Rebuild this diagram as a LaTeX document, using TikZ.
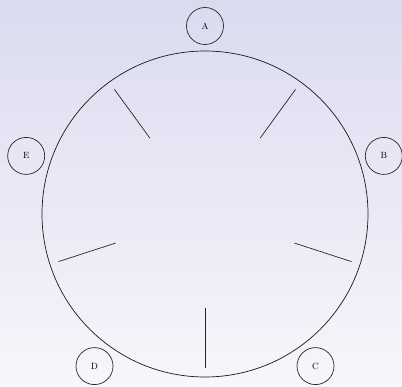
\documentclass[tikz,border=0pt]{standalone}
\usepackage{xcolor}
\usepackage{tikz}
\definecolor{bgtop}{RGB}{219,219,240}
\definecolor{bgbottom}{RGB}{246,246,251}
\tikzset{
  station/.style={
    circle,
    draw=black!85,
    line width=0.7pt,
    minimum size=37pt,
    inner sep=0pt,
    font=\small
  },
  ring/.style={draw=black!90, line width=0.7pt},
  spoke/.style={draw=black!85, line width=0.7pt}
}

\begin{document}
\begin{tikzpicture}[x=1pt,y=1pt]
\useasboundingbox (-205,-172) rectangle (197,214);
\shade[top color=bgtop, bottom color=bgbottom] (-205,-172) rectangle (197,214);
\node[station] (A) at (90:188) {A};
\node[station] (B) at (18:188) {B};
\node[station] (C) at (-54:188) {C};
\node[station] (D) at (-126:188) {D};
\node[station] (E) at (162:188) {E};
\draw[ring] (0,0) circle (163);
\draw[spoke] (54:94) -- (54:154);
\draw[spoke] (-18:94) -- (-18:154);
\draw[spoke] (-90:94) -- (-90:154);
\draw[spoke] (198:94) -- (198:154);
\draw[spoke] (126:94) -- (126:154);
\end{tikzpicture}
\end{document}
